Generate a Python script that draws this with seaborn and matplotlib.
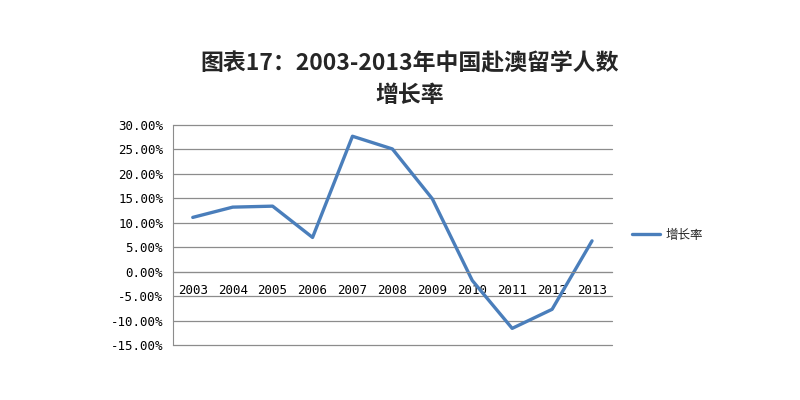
import matplotlib
matplotlib.use("Agg")
import matplotlib.pyplot as plt
import seaborn as sns
import pandas as pd
import numpy as np
from matplotlib.ticker import FuncFormatter, FixedLocator

sns.set_style("white")
plt.rcParams['font.family'] = ['Noto Sans CJK SC', 'DejaVu Sans']

years = ["2003", "2004", "2005", "2006", "2007", "2008", "2009", "2010", "2011", "2012", "2013"]
growth = [11.1, 13.2, 13.4, 7.0, 27.7, 25.1, 14.9, -1.8, -11.6, -7.7, 6.3]
series_name = "增长率"
title = "图表17：2003-2013年中国赴澳留学人数\n增长率"

df = pd.DataFrame({"pos": np.arange(len(years)), "value": growth, "series": series_name})

fig = plt.figure(figsize=(8, 4), dpi=100)
ax = fig.add_axes([0.216, 0.1375, 0.549, 0.55])

sns.lineplot(data=df, x="pos", y="value", hue="series", palette=["#4A7EBB"],
             linewidth=2.4, ax=ax, legend=True)

ax.set_xlim(-0.5, len(years) - 0.5)
ax.set_ylim(-15, 30)
ax.set_yticks(np.arange(-15, 31, 5))
ax.yaxis.set_major_formatter(FuncFormatter(lambda v, p: f"{v:.2f}%"))
ax.grid(axis="y", color="#8c8c8c", linewidth=0.9)
ax.grid(axis="x", visible=False)
ax.set_axisbelow(True)
for gl in ax.get_ygridlines():
    gl.set_clip_on(False)

for s in ["top", "right"]:
    ax.spines[s].set_visible(False)
ax.spines["left"].set_color("#8c8c8c")
ax.spines["bottom"].set_color("#8c8c8c")
ax.spines["bottom"].set_position(("data", 0))

ax.set_xticks(np.arange(len(years)))
ax.set_xticklabels(years)
ax.xaxis.set_minor_locator(FixedLocator(np.arange(-0.5, len(years), 1.0)))
ax.tick_params(axis="x", which="major", length=0, pad=9, labelsize=9, colors="black")
ax.tick_params(axis="x", which="minor", length=4, direction="out", color="#8c8c8c")
ax.tick_params(axis="y", which="major", length=4, direction="out", color="#8c8c8c",
               labelsize=9, labelcolor="black", pad=3)
for lab in ax.get_xticklabels() + ax.get_yticklabels():
    lab.set_family("DejaVu Sans Mono")
ax.set_xlabel("")
ax.set_ylabel("")

leg = ax.legend(loc="center left", bbox_to_anchor=(1.02, 0.5), frameon=False,
                fontsize=9, handlelength=2.2, handletextpad=0.5)
for t in leg.get_texts():
    t.set_text(series_name)

fig.text(0.512, 0.80, title, ha="center", va="center", fontsize=16.5,
         fontweight="bold", linespacing=1.45)

fig.savefig("out.png", dpi=100, facecolor="white")
